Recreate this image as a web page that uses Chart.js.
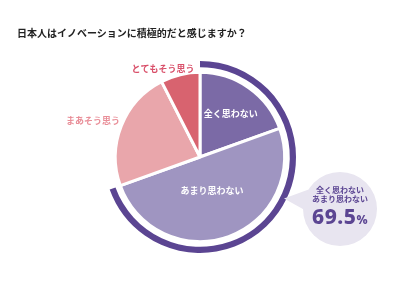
<!DOCTYPE html>
<html lang="ja">
<head>
<meta charset="utf-8">
<script src="https://cdn.jsdelivr.net/npm/chart.js@4"></script>
<style>
  html, body { margin: 0; padding: 0; background: #fff; }
  .wrap { position: relative; width: 400px; height: 300px; overflow: hidden; font-family: "Noto Sans CJK JP", sans-serif; }
  canvas { position: absolute; left: 0; top: 0; }
  .title { position: absolute; left: 17px; top: 25px; font-size: 10px; font-weight: 700; color: #222; white-space: nowrap; }
  .tail { position: absolute; left: 284px; top: 186px; width: 26px; height: 30px; background: #e8e5f0;
          clip-path: polygon(0 42%, 100% 10%, 100% 90%); }
  .bubble { position: absolute; left: 303px; top: 172px; width: 74px; height: 74px; border-radius: 50%; background: #e8e5f0;
            color: #5b4592; text-align: center; }
  .bubble .sub { font-size: 8px; font-weight: 700; line-height: 9px; margin-top: 13px; }
  .bubble .big { font-family: "Noto Sans", sans-serif; font-size: 21px; font-weight: 800; line-height: 24px; margin-top: 1px; letter-spacing: 0.5px; }
  .bubble .big span { font-size: 12px; }
</style>
</head>
<body>
<div class="wrap">
  <canvas id="chartInnovacion" width="400" height="300"></canvas>
  <div class="title">日本人はイノベーションに積極的だと感じますか？</div>
  <div class="tail"></div>
  <div class="bubble">
    <div class="sub">全く思わない<br>あまり思わない</div>
    <div class="big">69.5<span>%</span></div>
  </div>
</div>
<script>
const categorias = ['全く思わない', 'あまり思わない', 'まあそう思う', 'とてもそう思う'];
const porcentajes = [19.5, 50.0, 23.0, 7.5];
const colores = ['#7b6aa6', '#9f95c1', '#e9a6ab', '#d8636f'];
const negativos = [69.5, 30.5];

// label layout (text only)
const etiquetas = [
    { r: 0.63, color: '#ffffff' },
    { r: 0.42, color: '#ffffff' },
    { x: 93, y: 121, color: '#e98e98' },
    { x: 163, y: 69, color: '#d9506a' }
];

const pluginEtiquetas = {
    id: 'etiquetas',
    afterDatasetsDraw(chart) {
        const meta = chart.getDatasetMeta(2);
        const ctx = chart.ctx;
        ctx.save();
        ctx.textAlign = 'center';
        ctx.textBaseline = 'middle';
        ctx.font = '700 9px "Noto Sans CJK JP"';
        meta.data.forEach((arc, i) => {
            const cfg = etiquetas[i];
            let x = cfg.x, y = cfg.y;
            if (cfg.r) {
                const mid = (arc.startAngle + arc.endAngle) / 2;
                const rr = arc.outerRadius * cfg.r;
                x = arc.x + Math.cos(mid) * rr;
                y = arc.y + Math.sin(mid) * rr;
            }
            ctx.fillStyle = cfg.color;
            ctx.fillText(categorias[i], x, y);
        });
        ctx.restore();
    }
};

document.addEventListener('DOMContentLoaded', () => {
    const ctx = document.getElementById('chartInnovacion').getContext('2d');
    new Chart(ctx, {
        type: 'doughnut',
        data: {
            labels: categorias,
            datasets: [
                {
                    data: negativos,
                    backgroundColor: ['#5b4592', 'rgba(0,0,0,0)'],
                    borderWidth: 0,
                    weight: 6
                },
                {
                    data: [1],
                    backgroundColor: ['rgba(0,0,0,0)'],
                    borderWidth: 0,
                    weight: 5
                },
                {
                    data: porcentajes,
                    backgroundColor: colores,
                    borderColor: '#ffffff',
                    borderWidth: 3,
                    weight: 82
                }
            ]
        },
        options: {
            responsive: false,
            animation: false,
            cutout: 0,
            layout: { padding: { left: 104, right: 104, top: 61, bottom: 47 } },
            plugins: {
                legend: { display: false },
                tooltip: { enabled: false }
            },
            events: []
        },
        plugins: [pluginEtiquetas]
    });
});
</script>
</body>
</html>
